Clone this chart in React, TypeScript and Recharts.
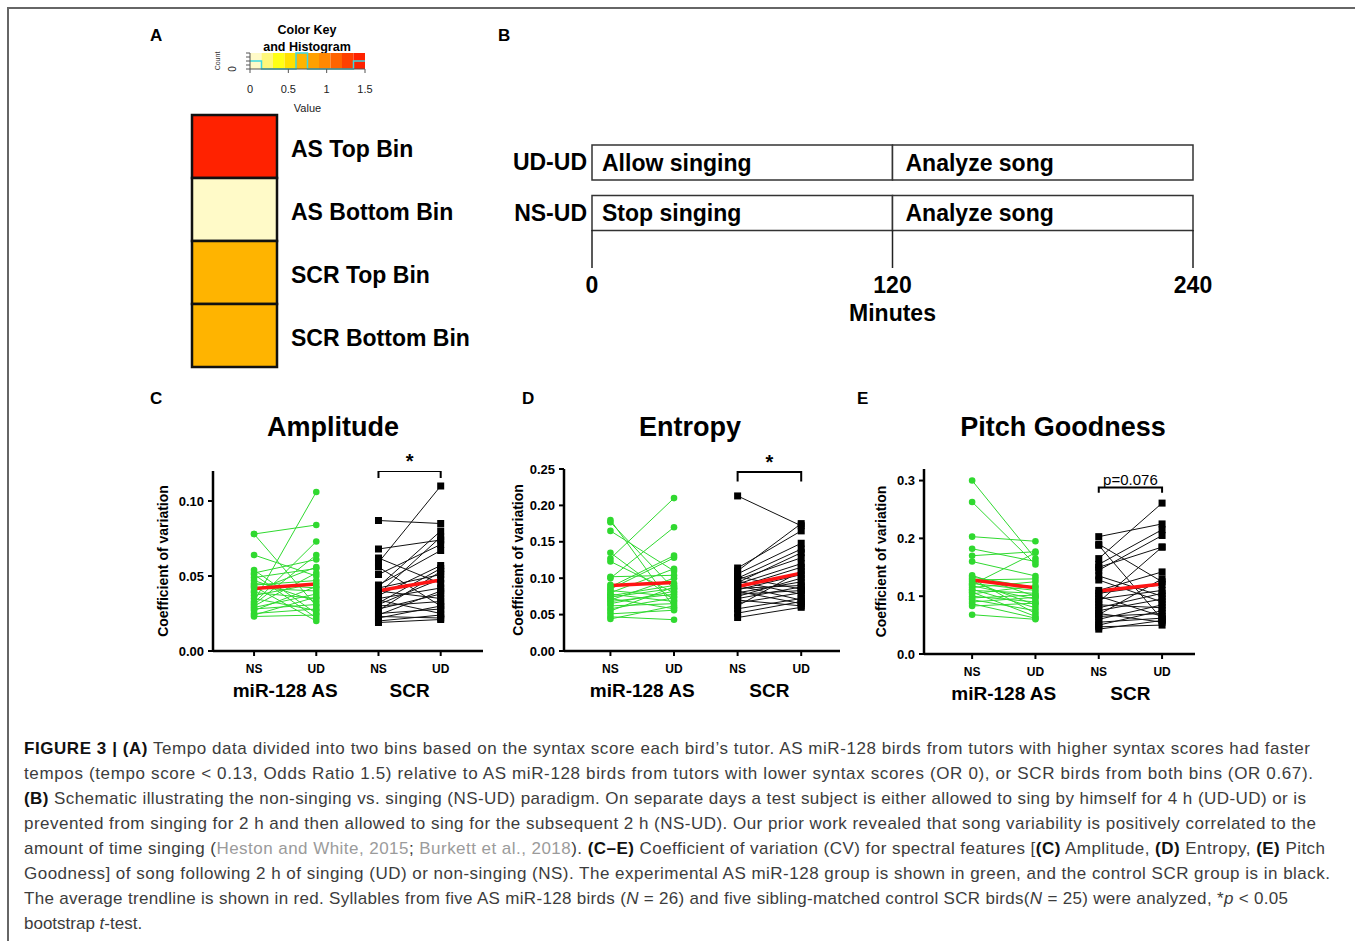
import React from 'react';
import {
  ComposedChart,
  BarChart,
  Bar,
  Line,
  XAxis,
  YAxis,
  Cell,
  LabelList,
  ReferenceArea,
  ReferenceDot,
} from 'recharts';

const FONT = '"Liberation Sans", Arial, Helvetica, sans-serif';
const GREEN = '#30d930';
const RED = '#ff1414';

// ---- panel A: color key + heatmap
const keyBreaks = [0, 0.15, 0.3, 0.45, 0.6, 0.75, 0.9, 1.05, 1.2, 1.35, 1.5];
const keyColors = ['#fffac8', '#fff77a', '#ffff14', '#ffe000', '#ffb400', '#ffa000', '#ff8800', '#ff6400', '#ff4000', '#ff2200'];
const histCounts = [1, 0, 0, 0, 2, 0, 0, 0, 0, 1];
const keyTicks = [0, 0.5, 1, 1.5];
const countTicks = [0, 0.5, 1, 1.5, 2];
const binNames = ['AS Top Bin', 'AS Bottom Bin', 'SCR Top Bin', 'SCR Bottom Bin'];
const binOdds = [1.5, 0, 0.67, 0.67];

// ---- panel B: schedule
const scheduleRows = ['UD-UD', 'NS-UD'];
const firstPhase = ['Allow singing', 'Stop singing'];
const secondPhase = ['Analyze song', 'Analyze song'];
const phaseMinutes = [120, 120];
const minuteTicks = [0, 120, 240];

// ---- panels C-E
const conditionNames = ['NS', 'UD'];
const groupNames = ['miR-128 AS', 'SCR'];

const ampAsNS = [0.078, 0.078, 0.064, 0.054, 0.052, 0.051, 0.049, 0.047, 0.045, 0.044, 0.043, 0.042, 0.040, 0.039, 0.037, 0.035, 0.033, 0.032, 0.031, 0.030, 0.029, 0.028, 0.027, 0.025, 0.024, 0.023];
const ampAsUD = [0.084, 0.030, 0.050, 0.025, 0.061, 0.022, 0.055, 0.033, 0.042, 0.047, 0.020, 0.040, 0.056, 0.035, 0.045, 0.027, 0.106, 0.073, 0.064, 0.052, 0.038, 0.031, 0.043, 0.028, 0.036, 0.024];
const ampScrNS = [0.087, 0.059, 0.068, 0.062, 0.056, 0.051, 0.044, 0.043, 0.042, 0.040, 0.038, 0.037, 0.035, 0.034, 0.032, 0.031, 0.030, 0.028, 0.027, 0.025, 0.024, 0.023, 0.022, 0.020, 0.019];
const ampScrUD = [0.085, 0.110, 0.074, 0.045, 0.030, 0.071, 0.067, 0.080, 0.051, 0.035, 0.076, 0.057, 0.042, 0.025, 0.055, 0.048, 0.033, 0.038, 0.053, 0.028, 0.040, 0.022, 0.030, 0.024, 0.021];
const ampAsMean = [0.0416, 0.0447];
const ampScrMean = [0.0402, 0.0473];

const entAsNS = [0.180, 0.177, 0.165, 0.135, 0.127, 0.123, 0.102, 0.100, 0.091, 0.088, 0.085, 0.083, 0.080, 0.078, 0.076, 0.074, 0.072, 0.070, 0.068, 0.065, 0.062, 0.058, 0.055, 0.051, 0.047, 0.044];
const entAsUD = [0.060, 0.085, 0.110, 0.070, 0.210, 0.080, 0.104, 0.170, 0.093, 0.131, 0.128, 0.075, 0.113, 0.068, 0.090, 0.086, 0.058, 0.100, 0.078, 0.082, 0.065, 0.073, 0.088, 0.056, 0.043, 0.062];
const entScrNS = [0.213, 0.114, 0.110, 0.106, 0.102, 0.100, 0.098, 0.096, 0.094, 0.092, 0.090, 0.088, 0.086, 0.084, 0.082, 0.080, 0.078, 0.075, 0.072, 0.070, 0.066, 0.062, 0.058, 0.052, 0.046];
const entScrUD = [0.172, 0.165, 0.175, 0.148, 0.085, 0.140, 0.128, 0.078, 0.135, 0.120, 0.070, 0.115, 0.090, 0.105, 0.065, 0.095, 0.083, 0.100, 0.088, 0.062, 0.080, 0.110, 0.072, 0.068, 0.060];
const entAsMean = [0.0899, 0.094];
const entScrMean = [0.0885, 0.107];

const pitAsNS = [0.300, 0.263, 0.203, 0.182, 0.170, 0.160, 0.136, 0.133, 0.130, 0.128, 0.125, 0.122, 0.120, 0.118, 0.115, 0.112, 0.110, 0.107, 0.104, 0.100, 0.097, 0.094, 0.090, 0.087, 0.083, 0.068];
const pitAsUD = [0.165, 0.155, 0.195, 0.160, 0.177, 0.135, 0.100, 0.115, 0.070, 0.130, 0.085, 0.110, 0.175, 0.095, 0.125, 0.080, 0.105, 0.065, 0.118, 0.090, 0.102, 0.075, 0.098, 0.062, 0.088, 0.060];
const pitScrNS = [0.203, 0.190, 0.188, 0.165, 0.155, 0.150, 0.145, 0.135, 0.128, 0.110, 0.105, 0.100, 0.095, 0.090, 0.085, 0.080, 0.075, 0.070, 0.068, 0.065, 0.060, 0.055, 0.050, 0.047, 0.043];
const pitScrUD = [0.225, 0.125, 0.060, 0.261, 0.215, 0.185, 0.205, 0.100, 0.090, 0.142, 0.120, 0.065, 0.110, 0.185, 0.080, 0.105, 0.095, 0.055, 0.130, 0.070, 0.085, 0.062, 0.075, 0.050, 0.058];
const pitAsMean = [0.128, 0.1145];
const pitScrMean = [0.109, 0.121];

// caption, one entry per printed line: [text, style]
type Seg = [string, string?];
const captionLines: Seg[][] = [
  [['FIGURE 3 | (A)', 'b'], [' Tempo data divided into two bins based on the syntax score each bird\u2019s tutor. AS miR-128 birds from tutors with higher syntax scores had faster']],
  [['tempos (tempo score < 0.13, Odds Ratio 1.5) relative to AS miR-128 birds from tutors with lower syntax scores (OR 0), or SCR birds from both bins (OR 0.67).']],
  [['(B)', 'b'], [' Schematic illustrating the non-singing vs. singing (NS-UD) paradigm. On separate days a test subject is either allowed to sing by himself for 4 h (UD-UD) or is']],
  [['prevented from singing for 2 h and then allowed to sing for the subsequent 2 h (NS-UD). Our prior work revealed that song variability is positively correlated to the']],
  [['amount of time singing ('], ['Heston and White, 2015', 'g'], ['; '], ['Burkett et al., 2018', 'g'], ['). '], ['(C\u2013E)', 'b'], [' Coefficient of variation (CV) for spectral features ['], ['(C)', 'b'], [' Amplitude, '], ['(D)', 'b'], [' Entropy, '], ['(E)', 'b'], [' Pitch']],
  [['Goodness] of song following 2 h of singing (UD) or non-singing (NS). The experimental AS miR-128 group is shown in green, and the control SCR group is in black.']],
  [['The average trendline is shown in red. Syllables from five AS miR-128 birds ('], ['N', 'i'], [' = 26) and five sibling-matched control SCR birds('], ['N', 'i'], [' = 25) were analyzed, *'], ['p', 'i'], [' < 0.05']],
  [['bootstrap '], ['t', 'i'], ['-test.']],
];
const captionWidths = [1286, 1289, 1282, 1292, 1301, 1306, 1264, 0];

const colorFor = (v: number) => {
  const i = keyBreaks.findIndex((b, k) => k < keyBreaks.length - 1 && v >= b && v < keyBreaks[k + 1]);
  return keyColors[i < 0 ? keyColors.length - 1 : i];
};

function Letter({ x, y, children }: { x: number; y: number; children: string }) {
  return (
    <div style={{ position: 'absolute', left: x, top: y - 9, lineHeight: '18px', fontSize: 17, fontWeight: 700 }}>
      {children}
    </div>
  );
}

function Title({ cx, cy, children }: { cx: number; cy: number; children: string }) {
  return (
    <div style={{ position: 'absolute', left: cx - 160, width: 320, top: cy - 16, lineHeight: '32px', textAlign: 'center', fontSize: 27, fontWeight: 700 }}>
      {children}
    </div>
  );
}

function ColorKey() {
  const histData = keyBreaks.map((b, i) => ({ x: b, y: histCounts[Math.min(i, histCounts.length - 1)] }));
  const CountTick = (props: any) => {
    const { x, y, payload } = props;
    if (payload.value !== 0) return <g />;
    const tx = x - 8;
    return (
      <text x={tx} y={y} transform={`rotate(-90 ${tx} ${y})`} textAnchor="middle" fontSize={10} fill="#222">0</text>
    );
  };
  return (
    <>
      <div style={{ position: 'absolute', left: 227, width: 160, top: 22, textAlign: 'center', fontSize: 12.5, fontWeight: 700, lineHeight: '17px' }}>
        Color Key<br />and Histogram
      </div>
      <div style={{ position: 'absolute', left: 208, top: 56, width: 20, height: 10, fontSize: 7, color: '#333', transform: 'rotate(-90deg)', textAlign: 'center', lineHeight: '10px' }}>
        Count
      </div>
      <div style={{ position: 'absolute', left: 215, top: 50 }}>
        <ComposedChart width={165} height={64} margin={{ top: 3, right: 15, bottom: 0, left: 10 }}>
          <XAxis type="number" dataKey="x" domain={[0, 1.5]} ticks={keyTicks} interval={0} height={45} tickSize={4} tickMargin={12}
            axisLine={{ stroke: '#555' }} tickLine={{ stroke: '#555' }} tick={{ fontSize: 11, fill: '#222' }}
            label={{ value: 'Value', position: 'insideBottom', offset: 2, fontSize: 11, fill: '#222' }} />
          <YAxis type="number" domain={[0, 2]} ticks={countTicks} interval={0} width={25} tickSize={4} tickMargin={2}
            axisLine={{ stroke: '#555' }} tickLine={{ stroke: '#555' }} tick={CountTick} />
          {keyColors.map((c, i) => (
            <ReferenceArea key={i} x1={keyBreaks[i]} x2={keyBreaks[i + 1]} y1={0} y2={2} fill={c} fillOpacity={1} stroke="none" />
          ))}
          <Line data={histData} dataKey="y" type="stepAfter" stroke="#3cd8e0" strokeWidth={1.5} dot={false} activeDot={false} isAnimationActive={false} />
        </ComposedChart>
      </div>
    </>
  );
}

function Heatmap() {
  const heatData = binNames.map((name, i) => ({ name, tempoOR: binOdds[i], cell: 1 }));
  return (
    <div style={{ position: 'absolute', left: 190, top: 113 }}>
      <BarChart layout="vertical" width={307} height={256} data={heatData} margin={{ top: 2, right: 0, bottom: 2, left: 2 }} barCategoryGap={0}>
        <XAxis type="number" domain={[0, 1]} hide />
        <YAxis type="category" dataKey="name" orientation="right" width={220} axisLine={false} tickLine={false} tickSize={0} tickMargin={14}
          tick={{ fontSize: 23, fontWeight: 700, fill: '#000', dy: 2 }} />
        <Bar dataKey="cell" stroke="#111" strokeWidth={2.5} isAnimationActive={false}>
          {heatData.map((d, i) => (
            <Cell key={i} fill={colorFor(d.tempoOR)} />
          ))}
        </Bar>
      </BarChart>
    </div>
  );
}

function Schedule() {
  const timelineData = scheduleRows.map((row, i) => ({
    row,
    first: phaseMinutes[0],
    second: phaseMinutes[1],
    firstLabel: firstPhase[i],
    secondLabel: secondPhase[i],
  }));
  const TimeTick = (props: any) => {
    const { x, y, payload } = props;
    return (
      <g>
        <line x1={x} x2={x} y1={y - 8} y2={y + 30} stroke="#222" strokeWidth={1.5} />
        <text x={x} y={y + 55} textAnchor="middle" fontSize={23} fontWeight={700} fill="#000">{payload.value}</text>
      </g>
    );
  };
  const boxLabel = { fill: '#000', fontSize: 23, fontWeight: 700 };
  return (
    <div style={{ position: 'absolute', left: 492, top: 132 }}>
      <BarChart layout="vertical" width={731} height={196} data={timelineData} margin={{ top: 5, right: 30, bottom: 0, left: 0 }}>
        <XAxis type="number" domain={[0, 240]} ticks={minuteTicks} interval={0} axisLine={false} tickLine={false} tickSize={0} tickMargin={0}
          height={90} tick={TimeTick}
          label={{ value: 'Minutes', position: 'insideBottom', offset: 7, fontSize: 23, fontWeight: 700, fill: '#000' }} />
        <YAxis type="category" dataKey="row" width={100} axisLine={false} tickLine={false} tickSize={0} tickMargin={5}
          tick={{ fontSize: 23, fontWeight: 700, fill: '#000' }} />
        <Bar dataKey="first" stackId="t" barSize={35} fill="#fff" stroke="#333" strokeWidth={1.5} isAnimationActive={false}>
          <LabelList dataKey="firstLabel" position="insideLeft" offset={10} style={boxLabel} />
        </Bar>
        <Bar dataKey="second" stackId="t" barSize={35} fill="#fff" stroke="#333" strokeWidth={1.5} isAnimationActive={false}>
          <LabelList dataKey="secondLabel" position="insideLeft" offset={13} style={boxLabel} />
        </Bar>
      </BarChart>
    </div>
  );
}

type PanelProps = {
  axisX: number;
  plotRight: number;
  plotTop: number;
  plotBottom: number;
  labelGap: number;
  xDomain: [number, number];
  yDomain: [number, number];
  yTicks: number[];
  yDigits: number;
  asNS: number[];
  asUD: number[];
  scrNS: number[];
  scrUD: number[];
  asMean: number[];
  scrMean: number[];
  bracket: [number, number];
  sigText: string;
  sigSize: number;
  sigBold: boolean;
};

function CvPanel(p: PanelProps) {
  const YW = 50, ML = 30, MT = 40, MR = 12, XH1 = 24, XH2 = 32, MB = 4;
  const plotH = p.plotBottom - p.plotTop;
  const plotW = p.plotRight - p.axisX;
  const width = ML + YW + plotW + MR;
  const height = MT + plotH + XH1 + XH2 + MB;
  const pair = (a: number, b: number, x0: number) => [{ x: x0, y: a }, { x: x0 + 1, y: b }];
  const [lo, hi] = p.bracket;
  const bracketData = [{ x: 3, y: lo }, { x: 3, y: hi }, { x: 4, y: hi }, { x: 4, y: lo }];
  const square = (props: any) => (
    <rect key={`sq-${props.index}`} x={props.cx - 3.5} y={props.cy - 3.5} width={7} height={7} fill="#000" />
  );
  return (
    <div style={{ position: 'absolute', left: p.axisX - YW - ML, top: p.plotTop - MT }}>
      <ComposedChart width={width} height={height} margin={{ top: MT, right: MR, bottom: MB, left: ML }}>
        <XAxis xAxisId={0} type="number" dataKey="x" domain={p.xDomain} allowDataOverflow ticks={[1, 2, 3, 4]} interval={0}
          tickFormatter={(v: number) => conditionNames[(v - 1) % 2]} height={XH1} tickSize={5} tickMargin={8}
          axisLine={{ stroke: '#000', strokeWidth: 2.5 }} tickLine={{ stroke: '#000', strokeWidth: 2 }}
          tick={{ fill: '#000', fontSize: 12, fontWeight: 700 }} />
        <XAxis xAxisId={1} type="number" dataKey="x" domain={p.xDomain} allowDataOverflow ticks={[1.5, 3.5]} interval={0}
          tickFormatter={(v: number) => groupNames[v < 2.5 ? 0 : 1]} height={XH2} axisLine={false} tickLine={false} tickSize={0} tickMargin={9}
          tick={{ fill: '#000', fontSize: 19, fontWeight: 700 }} />
        <YAxis type="number" domain={p.yDomain} allowDataOverflow ticks={p.yTicks} interval={0} width={YW}
          tickFormatter={(v: number) => v.toFixed(p.yDigits)} tickSize={5} tickMargin={4}
          axisLine={{ stroke: '#000', strokeWidth: 2.5 }} tickLine={{ stroke: '#000', strokeWidth: 2 }}
          tick={{ fill: '#000', fontSize: 13, fontWeight: 700 }}
          label={{ value: 'Coefficient of variation', angle: -90, position: 'left', offset: p.labelGap - YW,
            style: { textAnchor: 'middle', fontWeight: 700, fontSize: 14, fill: '#000' } }} />
        {p.asNS.map((v, i) => (
          <Line key={`as${i}`} xAxisId={0} data={pair(v, p.asUD[i], 1)} dataKey="y" stroke={GREEN} strokeWidth={1}
            dot={{ r: 3.3, fill: GREEN, stroke: GREEN, strokeWidth: 0 }} activeDot={false} isAnimationActive={false} />
        ))}
        {p.scrNS.map((v, i) => (
          <Line key={`scr${i}`} xAxisId={0} data={pair(v, p.scrUD[i], 3)} dataKey="y" stroke="#111" strokeWidth={1}
            dot={square} activeDot={false} isAnimationActive={false} />
        ))}
        <Line xAxisId={0} data={pair(p.asMean[0], p.asMean[1], 1)} dataKey="y" stroke={RED} strokeWidth={3.5} dot={false} activeDot={false} isAnimationActive={false} />
        <Line xAxisId={0} data={pair(p.scrMean[0], p.scrMean[1], 3)} dataKey="y" stroke={RED} strokeWidth={3.5} dot={false} activeDot={false} isAnimationActive={false} />
        <Line xAxisId={0} data={bracketData} dataKey="y" stroke="#000" strokeWidth={2} dot={false} activeDot={false} isAnimationActive={false} />
        <ReferenceDot xAxisId={0} x={3.5} y={hi} r={0} fill="none" stroke="none" ifOverflow="visible"
          label={{ value: p.sigText, position: 'top', offset: 3, fontSize: p.sigSize, fontWeight: p.sigBold ? 700 : 400, fill: '#000' }} />
      </ComposedChart>
    </div>
  );
}

function Caption() {
  return (
    <svg style={{ position: 'absolute', left: 0, top: 730 }} width={1355} height={211}>
      {captionLines.map((line, i) => (
        <text key={i} x={24} y={24 + i * 25} fontSize={17} fill="#3c3c3c" fontFamily={FONT}
          textLength={captionWidths[i] || undefined} lengthAdjust={captionWidths[i] ? 'spacing' : undefined}>
          {line.map(([t, s], j) => (
            <tspan key={j} fontWeight={s === 'b' ? 700 : undefined} fontStyle={s === 'i' ? 'italic' : undefined}
              fill={s === 'g' ? '#9b9b9b' : s === 'b' ? '#111' : undefined}>{t}</tspan>
          ))}
        </text>
      ))}
    </svg>
  );
}

export default function App() {
  return (
    <div style={{ position: 'absolute', left: 0, top: 0, width: 1355, height: 941, background: '#fff', fontFamily: FONT, color: '#000', overflow: 'hidden' }}>
      <div style={{ position: 'absolute', left: 7, top: 7, width: 1360, height: 940, borderTop: '2px solid #666', borderLeft: '2px solid #666' }} />

      <Letter x={150} y={36}>A</Letter>
      <ColorKey />
      <Heatmap />

      <Letter x={498} y={36}>B</Letter>
      <Schedule />

      <Letter x={150} y={399}>C</Letter>
      <Title cx={333} cy={427}>Amplitude</Title>
      <CvPanel axisX={213} plotRight={483} plotTop={471} plotBottom={651} labelGap={50} xDomain={[0.34, 4.68]}
        yDomain={[0, 0.12]} yTicks={[0, 0.05, 0.1]} yDigits={2}
        asNS={ampAsNS} asUD={ampAsUD} scrNS={ampScrNS} scrUD={ampScrUD} asMean={ampAsMean} scrMean={ampScrMean}
        bracket={[0.1153, 0.12]} sigText="*" sigSize={20} sigBold />

      <Letter x={522} y={399}>D</Letter>
      <Title cx={690} cy={427}>Entropy</Title>
      <CvPanel axisX={564} plotRight={840} plotTop={469} plotBottom={651} labelGap={46} xDomain={[0.27, 4.61]}
        yDomain={[0, 0.25]} yTicks={[0, 0.05, 0.1, 0.15, 0.2, 0.25]} yDigits={2}
        asNS={entAsNS} asUD={entAsUD} scrNS={entScrNS} scrUD={entScrUD} asMean={entAsMean} scrMean={entScrMean}
        bracket={[0.233, 0.246]} sigText="*" sigSize={20} sigBold />

      <Letter x={857} y={399}>E</Letter>
      <Title cx={1063} cy={427}>Pitch Goodness</Title>
      <CvPanel axisX={924} plotRight={1195} plotTop={469} plotBottom={654} labelGap={43} xDomain={[0.24, 4.52]}
        yDomain={[0, 0.32]} yTicks={[0, 0.1, 0.2, 0.3]} yDigits={1}
        asNS={pitAsNS} asUD={pitAsUD} scrNS={pitScrNS} scrUD={pitScrUD} asMean={pitAsMean} scrMean={pitScrMean}
        bracket={[0.279, 0.288]} sigText="p=0.076" sigSize={15} sigBold={false} />

      <Caption />
    </div>
  );
}
